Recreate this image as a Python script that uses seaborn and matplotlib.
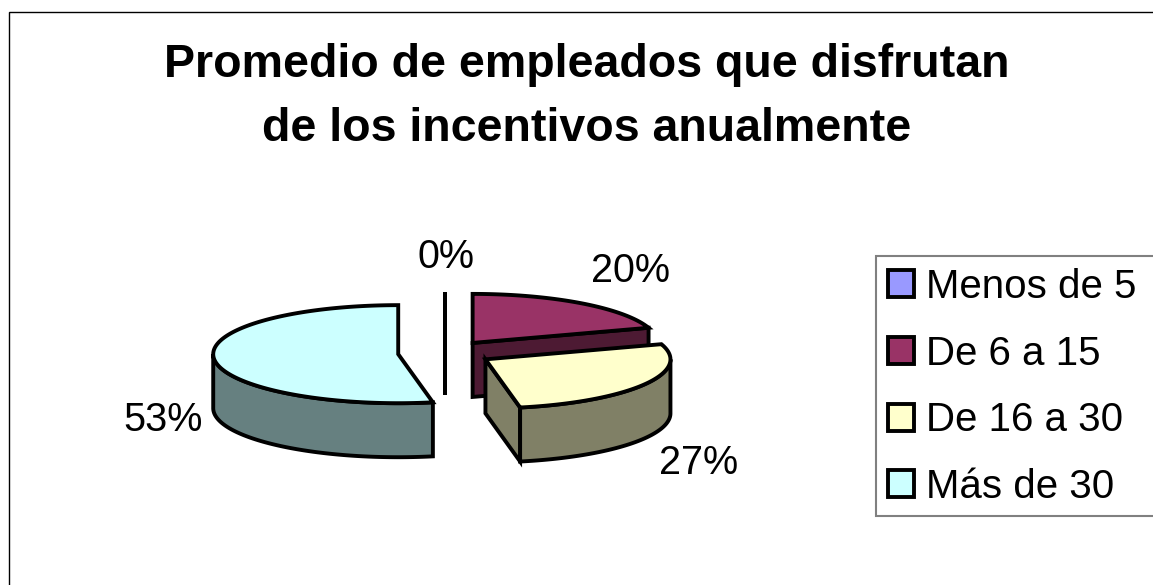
import numpy as np
import matplotlib
matplotlib.use("Agg")
import matplotlib.pyplot as plt
from matplotlib.patches import Polygon, Patch, Rectangle
from matplotlib.colors import to_rgb
import seaborn as sns

# --- data -------------------------------------------------------------
categories = ["Menos de 5", "De 6 a 15", "De 16 a 30", "Más de 30"]
shares = [0, 20, 27, 53]
colors = ["#9999FF", "#993366", "#FFFFCC", "#CCFFFF"]
title_lines = ["Promedio de empleados que disfrutan",
               "de los incentivos anualmente"]

# --- style ------------------------------------------------------------
sns.set_style("white")
plt.rcParams["font.family"] = ["Liberation Sans", "DejaVu Sans"]
plt.rcParams["text.color"] = "black"

W, H = 1153, 585
fig = plt.figure(figsize=(W / 100, H / 100), dpi=100)
ax = fig.add_axes([0, 0, 1, 1])

# pie drawn in units of its radius; the axes keep x and y at the same scale
PX = 185.0
cx_px, cy_px = 445, 353
ax.set_xlim(-cx_px / PX, (W - cx_px) / PX)
ax.set_ylim((cy_px - H) / PX, cy_px / PX)
ax.axis("off")

TILT = 0.265     # vertical squash of the tilted disc
DEPTH = 0.292    # thickness of the disc
EXPLODE = 0.254  # distance each slice is pulled out
LW = 2.8


def rim(theta, ox, oy, dz=0.0):
    t = np.radians(np.atleast_1d(theta))
    return np.column_stack([ox + np.sin(t), oy + TILT * np.cos(t) - dz])


total = float(sum(shares))
ends = np.cumsum(shares) / total * 360.0
starts = np.concatenate([[0.0], ends[:-1]])
mids = (starts + ends) / 2
offx = EXPLODE * np.sin(np.radians(mids))
offy = EXPLODE * TILT * np.cos(np.radians(mids))

# paint back slices first
order = sorted(range(len(shares)), key=lambda i: -offy[i])
for i in order:
    s, e = starts[i], ends[i]
    ox, oy = offx[i], offy[i]
    top = colors[i]
    side = tuple(c * 0.5 for c in to_rgb(top))
    kw = dict(edgecolor="black", linewidth=LW, joinstyle="miter")

    # flat radial walls facing the viewer
    walls = []
    if np.sin(np.radians(s)) <= 1e-9:
        walls.append(s)
    if np.sin(np.radians(e)) >= -1e-9:
        walls.append(e)
    for th in walls:
        p = rim(th, ox, oy)[0]
        pb = rim(th, ox, oy, DEPTH)[0]
        poly = [(ox, oy), tuple(p), tuple(pb), (ox, oy - DEPTH)]
        ax.add_patch(Polygon(poly, closed=True, facecolor=side, **kw))

    # curved outer wall on the front half
    lo, hi = max(s, 90.0), min(e, 270.0)
    if hi > lo:
        th = np.linspace(lo, hi, 120)
        upper = rim(th, ox, oy)
        lower = rim(th[::-1], ox, oy, DEPTH)
        ax.add_patch(Polygon(np.vstack([upper, lower]), closed=True,
                             facecolor=side, **kw))

    # top face
    th = np.linspace(s, e, 200) if e > s else np.array([s, s])
    face = np.vstack([[ox, oy], rim(th, ox, oy)])
    ax.add_patch(Polygon(face, closed=True, facecolor=top, **kw))

# percentage labels
label_xy = [(0.005, 0.459), (1.005, 0.384), (1.368, -0.654), (-1.524, -0.422)]
for v, (lx, ly) in zip(shares, label_xy):
    ax.text(lx, ly, f"{v / total * 100:.0f}%", ha="center", va="baseline",
            fontsize=28.5, color="black")

# title
fig.text(587 / W, 1 - 77 / H, title_lines[0], ha="center", va="baseline",
         fontsize=33.5, fontweight="bold", color="black")
fig.text(587 / W, 1 - 141 / H, title_lines[1], ha="center", va="baseline",
         fontsize=33.5, fontweight="bold", color="black")

# legend box, open on the right where it runs off the chart area
fig.patches.append(Rectangle((876 / W, (H - 516) / H), 400 / W, 260 / H,
                             facecolor="white", edgecolor="#808080",
                             linewidth=1.5, transform=fig.transFigure,
                             zorder=0))
handles = [Patch(facecolor=c, edgecolor="black", linewidth=2.8) for c in colors]
leg = fig.legend(handles, categories, loc="upper left",
                 bbox_to_anchor=(876 / W, (H - 516) / H, 400 / W, 260 / H),
                 borderaxespad=0, fontsize=29, handlelength=0.65,
                 handleheight=0.65, handletextpad=0.3, borderpad=0.3,
                 labelspacing=0.71, frameon=False)
for t in leg.get_texts():
    t.set_color("black")

# chart area border
fig.patches.append(Rectangle((9 / W, -0.1), 1.2, 1.1 - 12 / H, fill=False,
                             edgecolor="black", linewidth=1.0,
                             transform=fig.transFigure))

fig.savefig("out.png", dpi=100)
